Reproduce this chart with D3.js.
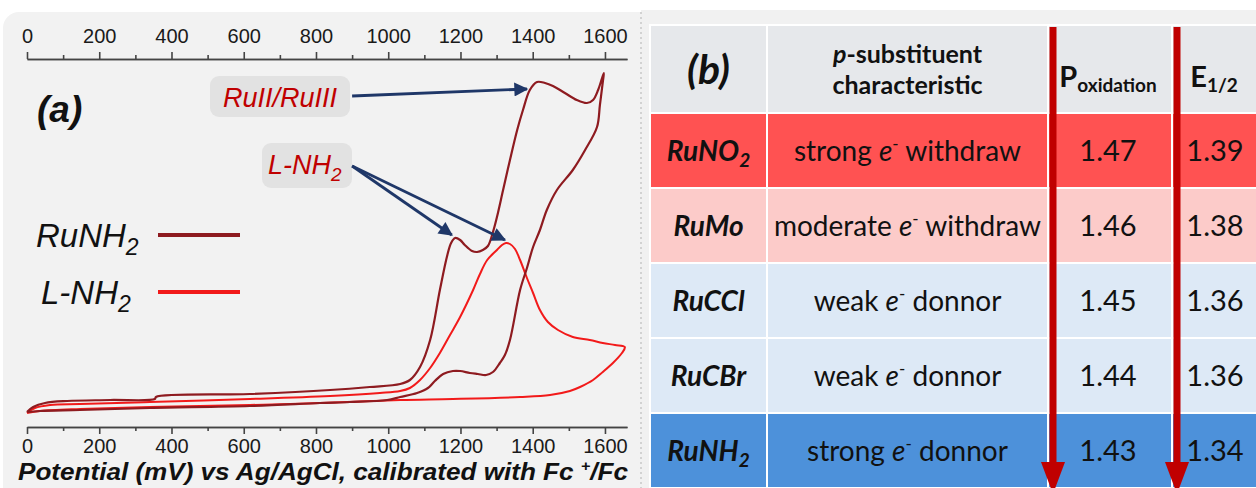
<!DOCTYPE html>
<html>
<head>
<meta charset="utf-8">
<script src="https://cdn.jsdelivr.net/npm/d3@7"></script>
<style>
  body { margin: 0; background: #fff; }
  svg { display: block; }
</style>
</head>
<body>
<div id="chart"></div>
<script>
// ---- data ----
var potentialTicks = [0, 200, 400, 600, 800, 1000, 1200, 1400, 1600];
var minorTicks = [100, 300, 500, 700, 900, 1100, 1300, 1500];

// RuNH2 CV, potential in mV, current in arbitrary units
var ruNH2Potential = [0, 17, 50, 111, 230, 354, 357, 617, 839, 949, 1033, 1060, 1088, 1116, 1143, 1163, 1174, 1185, 1199, 1212, 1232, 1246, 1262, 1276, 1290, 1301, 1318, 1337, 1357, 1373, 1392, 1412, 1434, 1456, 1489, 1522, 1550, 1567, 1581, 1592, 1597,
  1594, 1586, 1578, 1545, 1511, 1467, 1439, 1420, 1401, 1384, 1365, 1337, 1323, 1309, 1290, 1271, 1248, 1226, 1199, 1179, 1152, 1129, 1110, 1080, 1033, 997, 894, 811, 617, 340, 147, 36, 0];
var ruNH2Current = [0.3, 0.8, 1.2, 1.4, 1.5, 1.6, 1.8, 2.1, 2.5, 2.8, 3.1, 3.5, 4.8, 7.5, 12.5, 15.9, 17.2, 17.7, 17.5, 17.0, 16.4, 16.3, 16.5, 16.9, 18.3, 19.8, 22.5, 25.5, 28.5, 30.5, 32.5, 33.3, 33.2, 32.9, 32.2, 31.5, 31.2, 31.5, 32.5, 33.7, 34.2,
  33.3, 31.0, 28.8, 26.5, 24.5, 22.5, 20.5, 18.5, 16.8, 14.7, 12.5, 7.5, 6.0, 5.2, 4.3, 4.0, 4.1, 4.2, 4.4, 4.4, 4.1, 3.4, 2.7, 2.2, 1.8, 1.5, 1.3, 1.2, 0.9, 0.7, 0.5, 0.4, 0.3];

// L-NH2 CV
var lNH2Potential = [0, 22, 64, 147, 340, 617, 839, 977, 1033, 1060, 1088, 1116, 1143, 1171, 1199, 1235, 1254, 1274, 1301, 1315, 1326, 1337, 1351, 1365, 1384, 1401, 1420, 1442, 1470, 1511, 1558, 1594, 1628, 1655,
  1647, 1622, 1594, 1567, 1531, 1503, 1448, 1365, 1179, 1033, 811, 617, 340, 147, 36, 0];
var lNH2Current = [0.2, 0.7, 1.0, 1.1, 1.3, 1.6, 1.9, 2.2, 2.4, 2.7, 3.5, 4.7, 6.2, 8.0, 9.8, 12.5, 14.1, 15.5, 16.5, 17.0, 17.2, 17.1, 16.6, 15.5, 13.7, 12.2, 10.5, 9.3, 8.5, 7.8, 7.5, 7.2, 7.0, 6.8,
  6.2, 5.2, 4.3, 3.5, 2.8, 2.4, 2.0, 1.8, 1.6, 1.5, 1.2, 1.0, 0.8, 0.6, 0.4, 0.2];

// table (b)
var compounds = ["RuNO", "RuMo", "RuCCl", "RuCBr", "RuNH"];
var compoundSubs = ["2", "", "", "", "2"];
var strengths = ["strong", "moderate", "weak", "weak", "strong"];
var effects = ["withdraw", "withdraw", "donnor", "donnor", "donnor"];
var pOxidation = ["1.47", "1.46", "1.45", "1.44", "1.43"];
var eHalf = ["1.39", "1.38", "1.36", "1.36", "1.34"];
var rowColors = ["#ff5252", "#fccbc9", "#dde9f6", "#dde9f6", "#4d91da"];

// ---- layout ----
var W = 1256, H = 488;
var darkRed = "#8e1b20", brightRed = "#f21a1a", navy = "#1f3768", tableRed = "#c00000";
var sans = "'Liberation Sans', Arial, sans-serif";
var tfont = "Lato, 'Open Sans', sans-serif";

var svg = d3.select("#chart").append("svg")
    .attr("width", W)
    .attr("height", H);

var defs = svg.append("defs");
defs.append("marker")
    .attr("id", "navyhead")
    .attr("viewBox", "0 0 10 10")
    .attr("refX", 9).attr("refY", 5)
    .attr("markerWidth", 5.5).attr("markerHeight", 5)
    .attr("orient", "auto")
  .append("path")
    .attr("d", "M0,0L10,5L0,10z")
    .attr("fill", navy);

// panel backgrounds
svg.append("rect")
    .attr("x", 3).attr("y", 12)
    .attr("width", 660).attr("height", 500)
    .attr("rx", 16)
    .attr("fill", "#f2f2f2");
svg.append("rect")
    .attr("x", 641).attr("y", 10)
    .attr("width", 620).attr("height", 490)
    .attr("fill", "#f1f1f1");
svg.append("line")
    .attr("x1", 641).attr("x2", 641)
    .attr("y1", 12).attr("y2", 488)
    .attr("stroke", "#d2d2d2")
    .attr("stroke-width", 2)
    .attr("stroke-dasharray", "2,3");

// ---- panel (a) ----
var x = d3.scaleLinear()
    .domain([0, 1661])
    .range([27, 627]);

var y = d3.scaleLinear()
    .domain([0, 34])
    .range([415, 75]);

svg.append("g")
    .attr("transform", "translate(0,59)")
    .call(d3.axisTop(x).tickValues(potentialTicks).tickFormat(d3.format("d"))
        .tickSize(7).tickSizeOuter(0).tickPadding(9));
svg.append("g")
    .attr("transform", "translate(0,59)")
    .call(d3.axisTop(x).tickValues(minorTicks).tickSize(4).tickSizeOuter(0).tickFormat(""));

svg.append("g")
    .attr("transform", "translate(0,427)")
    .call(d3.axisBottom(x).tickValues(potentialTicks).tickFormat(d3.format("d"))
        .tickSize(7).tickSizeOuter(0).tickPadding(5));
svg.append("g")
    .attr("transform", "translate(0,427)")
    .call(d3.axisBottom(x).tickValues(minorTicks).tickSize(4).tickSizeOuter(0).tickFormat(""));

svg.selectAll(".domain").attr("stroke", "#444").attr("stroke-width", 1.6);
svg.selectAll(".tick line").attr("stroke", "#444").attr("stroke-width", 1.6);
svg.selectAll(".tick text")
    .attr("font-family", sans)
    .attr("font-size", 20)
    .attr("fill", "#1a1a1a");

var title = svg.append("text")
    .attr("x", 18).attr("y", 480)
    .attr("font-family", sans)
    .attr("font-size", 24)
    .attr("font-weight", "bold")
    .attr("font-style", "italic")
    .attr("fill", "#111")
    .attr("textLength", 610)
    .attr("lengthAdjust", "spacingAndGlyphs");
title.append("tspan").text("Potential (mV) vs Ag/AgCl, calibrated with Fc ");
title.append("tspan").attr("font-size", 15).attr("dy", -9).text("+");
title.append("tspan").attr("dy", 9).text("/Fc");

var line = d3.line()
    .x(function(d) { return x(d[0]); })
    .y(function(d) { return y(d[1]); })
    .curve(d3.curveCatmullRom.alpha(0.5));

svg.append("path")
    .datum(d3.zip(lNH2Potential, lNH2Current))
    .attr("d", line)
    .attr("fill", "none")
    .attr("stroke", brightRed)
    .attr("stroke-width", 2);

svg.append("path")
    .datum(d3.zip(ruNH2Potential, ruNH2Current))
    .attr("d", line)
    .attr("fill", "none")
    .attr("stroke", darkRed)
    .attr("stroke-width", 2.2);

// (a) label
svg.append("text")
    .attr("x", 37).attr("y", 122)
    .attr("font-family", sans)
    .attr("font-size", 37)
    .attr("font-weight", "bold")
    .attr("font-style", "italic")
    .attr("fill", "#111")
    .text("(a)");

// legend
var legend = [
  {name: "RuNH", sub: "2", color: darkRed, y: 235, tx: 36},
  {name: "L-NH", sub: "2", color: brightRed, y: 292, tx: 41}
];
legend.forEach(function(d) {
    var t = svg.append("text")
        .attr("x", d.tx).attr("y", d.y + 12)
        .attr("font-family", sans)
        .attr("font-size", 33)
        .attr("font-style", "italic")
        .attr("fill", "#111");
    t.append("tspan").text(d.name);
    t.append("tspan").attr("font-size", 23).attr("dy", 8).text(d.sub);
    svg.append("line")
        .attr("x1", 158).attr("x2", 240)
        .attr("y1", d.y).attr("y2", d.y)
        .attr("stroke", d.color)
        .attr("stroke-width", 4);
});

// annotations
svg.append("rect")
    .attr("x", 210).attr("y", 76).attr("width", 140).attr("height", 41)
    .attr("rx", 9).attr("fill", "#e2e2e2");
svg.append("text")
    .attr("x", 280).attr("y", 107)
    .attr("text-anchor", "middle")
    .attr("font-family", sans)
    .attr("font-size", 27)
    .attr("font-style", "italic")
    .attr("fill", tableRed)
    .text("RuII/RuIII");

svg.append("rect")
    .attr("x", 262).attr("y", 143).attr("width", 90).attr("height", 45)
    .attr("rx", 9).attr("fill", "#e2e2e2");
var lab = svg.append("text")
    .attr("x", 268).attr("y", 174)
    .attr("font-family", sans)
    .attr("font-size", 27)
    .attr("font-style", "italic")
    .attr("fill", tableRed);
lab.append("tspan").text("L-NH");
lab.append("tspan").attr("font-size", 19).attr("dy", 7).text("2");

var arrows = [
  {from: [900, 31.9], to: [1384, 32.6]},
  {from: [900, 24.9], to: [1176, 18.0]},
  {from: [900, 24.9], to: [1323, 17.5]}
];
svg.selectAll(".annot")
    .data(arrows)
    .enter().append("line")
    .attr("class", "annot")
    .attr("x1", function(d) { return x(d.from[0]); })
    .attr("y1", function(d) { return y(d.from[1]); })
    .attr("x2", function(d) { return x(d.to[0]); })
    .attr("y2", function(d) { return y(d.to[1]); })
    .attr("stroke", navy)
    .attr("stroke-width", 2.8)
    .attr("marker-end", "url(#navyhead)");

// ---- panel (b): table ----
var colEdges = [650, 767, 1048, 1172, 1262];
var headTop = 25, headBottom = 113;
var row = d3.scaleBand()
    .domain(d3.range(compounds.length))
    .range([headBottom, 488]);

var colMid = function(i) { return (colEdges[i] + colEdges[i + 1]) / 2; };

// header cells
for (var c = 0; c < 4; c++) {
    svg.append("rect")
        .attr("x", colEdges[c]).attr("y", headTop)
        .attr("width", colEdges[c + 1] - colEdges[c]).attr("height", headBottom - headTop)
        .attr("fill", "#e6e8eb")
        .attr("stroke", "#fff").attr("stroke-width", 2);
}
// body cells
compounds.forEach(function(d, i) {
    for (var c = 0; c < 4; c++) {
        svg.append("rect")
            .attr("x", colEdges[c]).attr("y", row(i))
            .attr("width", colEdges[c + 1] - colEdges[c]).attr("height", row.bandwidth())
            .attr("fill", rowColors[i])
            .attr("stroke", "#fff").attr("stroke-width", 2);
    }
});

// header text
svg.append("text")
    .attr("x", colMid(0)).attr("y", 84)
    .attr("text-anchor", "middle")
    .attr("font-family", tfont)
    .attr("font-size", 41)
    .attr("font-weight", "bold")
    .attr("font-style", "italic")
    .attr("fill", "#111")
    .text("(b)");

var h1 = svg.append("text")
    .attr("x", colMid(1)).attr("y", 63)
    .attr("text-anchor", "middle")
    .attr("font-family", tfont)
    .attr("font-size", 25)
    .attr("font-weight", "bold")
    .attr("fill", "#111");
h1.append("tspan").attr("font-style", "italic").text("p");
h1.append("tspan").text("-substituent");
svg.append("text")
    .attr("x", colMid(1)).attr("y", 94)
    .attr("text-anchor", "middle")
    .attr("font-family", tfont)
    .attr("font-size", 25)
    .attr("font-weight", "bold")
    .attr("fill", "#111")
    .text("characteristic");

var h3 = svg.append("text")
    .attr("x", colMid(2) - 2).attr("y", 87)
    .attr("text-anchor", "middle")
    .attr("font-family", tfont)
    .attr("font-size", 29)
    .attr("font-weight", "bold")
    .attr("fill", "#111");
h3.append("tspan").text("P");
h3.append("tspan").attr("font-size", 19).attr("dy", 5).text("oxidation");

var h4 = svg.append("text")
    .attr("x", colMid(3) - 3).attr("y", 87)
    .attr("text-anchor", "middle")
    .attr("font-family", tfont)
    .attr("font-size", 29)
    .attr("font-weight", "bold")
    .attr("fill", "#111");
h4.append("tspan").text("E");
h4.append("tspan").attr("font-size", 19).attr("dy", 5).text("1/2");

// body text
compounds.forEach(function(d, i) {
    var cy = row(i) + row.bandwidth() / 2 + 10;
    var t0 = svg.append("text")
        .attr("x", colMid(0)).attr("y", cy)
        .attr("text-anchor", "middle")
        .attr("font-family", tfont)
        .attr("font-size", 28)
        .attr("font-weight", "bold")
        .attr("font-style", "italic")
        .attr("fill", "#111");
    t0.append("tspan").text(d);
    if (compoundSubs[i]) t0.append("tspan").attr("font-size", 19).attr("dy", 6).text(compoundSubs[i]);

    var t1 = svg.append("text")
        .attr("x", colMid(1)).attr("y", cy)
        .attr("text-anchor", "middle")
        .attr("font-family", tfont)
        .attr("font-size", 28)
        .attr("fill", "#111");
    t1.append("tspan").text(strengths[i] + " ");
    t1.append("tspan").attr("font-style", "italic").text("e");
    t1.append("tspan").attr("font-size", 17).attr("dy", -11).text("-");
    t1.append("tspan").attr("dy", 11).text(" " + effects[i]);

    svg.append("text")
        .attr("x", colMid(2) - 2).attr("y", cy)
        .attr("text-anchor", "middle")
        .attr("font-family", tfont)
        .attr("font-size", 29)
        .attr("fill", "#111")
        .text(pOxidation[i]);
    svg.append("text")
        .attr("x", colMid(3) - 2).attr("y", cy)
        .attr("text-anchor", "middle")
        .attr("font-family", tfont)
        .attr("font-size", 29)
        .attr("fill", "#111")
        .text(eHalf[i]);
});

// red trend arrows
[1053, 1177].forEach(function(ax) {
    svg.append("line")
        .attr("x1", ax).attr("x2", ax)
        .attr("y1", headTop + 2).attr("y2", 464)
        .attr("stroke", tableRed)
        .attr("stroke-width", 7);
    svg.append("path")
        .attr("d", "M" + (ax - 12) + ",462L" + (ax + 12) + ",462L" + ax + ",494Z")
        .attr("fill", tableRed);
});
</script>
</body>
</html>
